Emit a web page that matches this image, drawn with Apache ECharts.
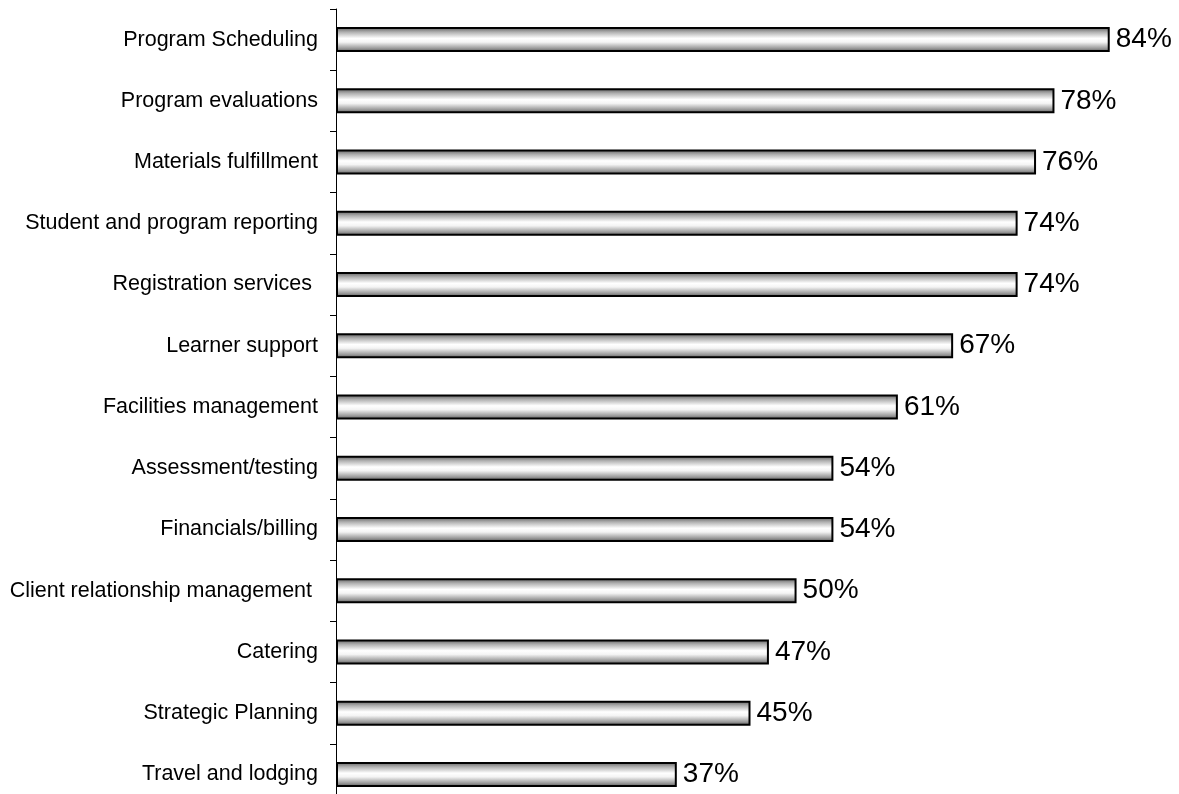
<!DOCTYPE html>
<html><head><meta charset="utf-8">
<script src="https://cdn.jsdelivr.net/npm/echarts@6/dist/echarts.min.js"></script>
<style>html,body{margin:0;padding:0;background:#fff}#c{width:1179px;height:794px}</style>
</head><body><div id="c"></div>
<script>
const categories = ["Program Scheduling","Program evaluations","Materials fulfillment","Student and program reporting","Registration services ","Learner support","Facilities management","Assessment/testing","Financials/billing","Client relationship management ","Catering","Strategic Planning","Travel and lodging"];
const values = [84,78,76,74,74,67,61,54,54,50,47,45,37];

const chart = echarts.init(document.getElementById('c'));
chart.setOption({
  animation:false,
  grid:{left:336,right:14,top:9,height:796,containLabel:false,outerBoundsMode:'none'},
  xAxis:{type:'value',min:0,max:90,show:false},
  yAxis:{type:'category',inverse:true,data:categories,
    axisLine:{lineStyle:{color:'#000',width:1}},
    axisTick:{show:true,length:6,lineStyle:{color:'#000'}},
    axisLabel:{color:'#000',fontFamily:'Liberation Sans, Arial',fontSize:21.5,margin:18}},
  series:[{type:'bar',data:values,barWidth:25,
    itemStyle:{borderColor:'#000',borderWidth:2,
      color:new echarts.graphic.LinearGradient(0,0,0,1,[
        {offset:0,color:'#5a5a5a'},{offset:0.2,color:'#b0b0b0'},{offset:0.45,color:'#ffffff'},{offset:0.6,color:'#f4f4f4'},{offset:0.85,color:'#9a9a9a'},{offset:1,color:'#555555'}])},
    label:{show:true,position:'right',distance:6,formatter:'{c}%',color:'#000',fontFamily:'Liberation Sans, Arial',fontSize:28}
  }]
});
</script></body></html>
